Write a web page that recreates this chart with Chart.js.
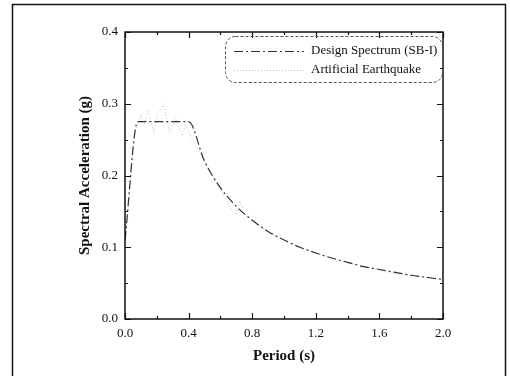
<!DOCTYPE html>
<html>
<head>
<meta charset="utf-8">
<script src="https://cdn.jsdelivr.net/npm/chart.js@4/dist/chart.umd.min.js"></script>
<style>
	html, body { margin: 0; padding: 0; background: #fff; }
	#wrap { width: 510px; height: 376px; }
</style>
</head>
<body>
<div id="wrap"><canvas id="spectrum-chart" width="510" height="376"></canvas></div>
<script>
// Design spectrum (SB-I), period in s, acceleration in g
const design_periods = [0.0, 0.08, 0.4, 0.5, 0.6, 0.7, 0.8, 0.9, 1.0, 1.1, 1.2, 1.3, 1.4, 1.5, 1.6, 1.7, 1.8, 1.9, 2.0];
const design_values = [0.11, 0.275, 0.275, 0.22, 0.183, 0.157, 0.1375, 0.122, 0.11, 0.1, 0.092, 0.085, 0.079, 0.073, 0.069, 0.065, 0.061, 0.058, 0.055];

// Spectrum of the artificial earthquake record
const quake_periods = [0.0, 0.02, 0.04, 0.06, 0.08, 0.1, 0.12, 0.14, 0.16, 0.18, 0.2, 0.22, 0.24, 0.26, 0.28, 0.3, 0.32, 0.34, 0.36, 0.38, 0.4,
	0.45, 0.5, 0.55, 0.6, 0.65, 0.7, 0.72, 0.75, 0.8, 0.9, 1.0, 1.1, 1.2, 1.3, 1.4, 1.5, 1.6, 1.7, 1.8, 1.9, 2.0];
const quake_values = [0.1, 0.15, 0.2, 0.26, 0.27, 0.285, 0.27, 0.29, 0.28, 0.26, 0.285, 0.29, 0.3, 0.28, 0.26, 0.27, 0.28, 0.265, 0.255, 0.27, 0.26,
	0.24, 0.22, 0.2, 0.18, 0.16, 0.145, 0.165, 0.15, 0.14, 0.12, 0.112, 0.1, 0.092, 0.085, 0.078, 0.074, 0.068, 0.063, 0.06, 0.058, 0.055];

const x_ticks = [0.0, 0.4, 0.8, 1.2, 1.6, 2.0];
const y_ticks = [0.0, 0.1, 0.2, 0.3, 0.4];

const serif = '"Liberation Serif", "Times New Roman", serif';

function toPoints(xs, ys) {
	return xs.map((x, i) => ({ x: x, y: ys[i] }));
}

// frame, inward ticks and legend box
const frame_plugin = {
	id: 'frame',
	beforeDraw(chart) {
		const c = chart.ctx;
		c.save();
		c.strokeStyle = '#111';
		c.lineWidth = 1.5;
		c.beginPath();
		c.moveTo(12.5, 380);
		c.lineTo(12.5, 4.5);
		c.lineTo(505.5, 4.5);
		c.lineTo(505.5, 380);
		c.stroke();
		c.restore();
	},
	afterDraw(chart) {
		const c = chart.ctx;
		const a = chart.chartArea;
		const xs = chart.scales.x;
		const ys = chart.scales.y;
		c.save();
		c.strokeStyle = '#111';
		c.lineWidth = 1.5;
		c.strokeRect(a.left, a.top, a.right - a.left, a.bottom - a.top);
		c.lineWidth = 1.2;
		c.beginPath();
		for (let v = 0; v <= 2.0001; v += 0.2) {
			const px = Math.round(xs.getPixelForValue(v)) + 0.5;
			const len = Math.abs((v / 0.4) - Math.round(v / 0.4)) < 0.01 ? 6 : 3;
			c.moveTo(px, a.bottom); c.lineTo(px, a.bottom - len);
			c.moveTo(px, a.top); c.lineTo(px, a.top + len);
		}
		for (let v = 0; v <= 0.4001; v += 0.05) {
			const py = Math.round(ys.getPixelForValue(v)) + 0.5;
			const len = Math.abs((v / 0.1) - Math.round(v / 0.1)) < 0.01 ? 6 : 3;
			c.moveTo(a.left, py); c.lineTo(a.left + len, py);
			c.moveTo(a.right, py); c.lineTo(a.right - len, py);
		}
		c.stroke();

		// legend
		const lx = 225, ly = 36, lw = 217, lh = 46;
		c.setLineDash([3, 2]);
		c.lineWidth = 1;
		c.strokeStyle = '#555';
		c.beginPath();
		c.roundRect(lx + 0.5, ly + 0.5, lw, lh, 10);
		c.stroke();
		const ds = chart.data.datasets;
		const rows = [ly + 15, ly + 34];
		ds.forEach((d, i) => {
			c.strokeStyle = d.borderColor;
			c.lineWidth = d.borderWidth;
			c.setLineDash(d.borderDash || []);
			c.beginPath();
			c.moveTo(234, rows[i] + 0.5);
			c.lineTo(304, rows[i] + 0.5);
			c.stroke();
			c.setLineDash([]);
			c.fillStyle = '#111';
			c.font = '13px ' + serif;
			c.textBaseline = 'middle';
			c.fillText(d.label, 311, rows[i]);
		});
		c.restore();
	},
};

new Chart(document.getElementById('spectrum-chart').getContext('2d'), {
	type: 'scatter',
	data: {
		datasets: [
			{
				label: 'Design Spectrum (SB-I)',
				data: toPoints(design_periods, design_values),
				showLine: true,
				borderColor: '#333',
				borderWidth: 1.2,
				borderDash: [9, 3, 2, 3],
				pointRadius: 0,
				cubicInterpolationMode: 'monotone',
			},
			{
				label: 'Artificial Earthquake',
				data: toPoints(quake_periods, quake_values),
				showLine: true,
				borderColor: '#c4c4c4',
				borderWidth: 1,
				borderDash: [1, 2],
				pointRadius: 0,
			},
		],
	},
	options: {
		responsive: false,
		animation: false,
		layout: {
			padding: { left: 72, right: 67, top: 32, bottom: 7 },
		},
		scales: {
			x: {
				type: 'linear',
				min: 0,
				max: 2.0,
				afterBuildTicks: (s) => { s.ticks = x_ticks.map(v => ({ value: v })); },
				afterFit: (s) => { s.height = 50; },
				grid: { display: false, drawTicks: false },
				border: { display: false },
				ticks: {
					color: '#111',
					padding: 7,
					font: { family: serif, size: 13 },
					callback: (v) => v.toFixed(1),
				},
				title: {
					display: true,
					text: 'Period (s)',
					color: '#111',
					font: { family: serif, size: 15, weight: 'bold' },
					padding: { top: 4 },
				},
			},
			y: {
				type: 'linear',
				min: 0,
				max: 0.4,
				afterBuildTicks: (s) => { s.ticks = y_ticks.map(v => ({ value: v })); },
				afterFit: (s) => { s.width = 53; },
				grid: { display: false, drawTicks: false },
				border: { display: false },
				ticks: {
					color: '#111',
					padding: 7,
					font: { family: serif, size: 13 },
					callback: (v) => v.toFixed(1),
				},
				title: {
					display: true,
					text: 'Spectral Acceleration (g)',
					color: '#111',
					font: { family: serif, size: 15, weight: 'bold' },
					padding: { bottom: 8 },
				},
			},
		},
		plugins: {
			legend: { display: false },
			tooltip: { enabled: false },
		},
	},
	plugins: [frame_plugin],
});
</script>
</body>
</html>
